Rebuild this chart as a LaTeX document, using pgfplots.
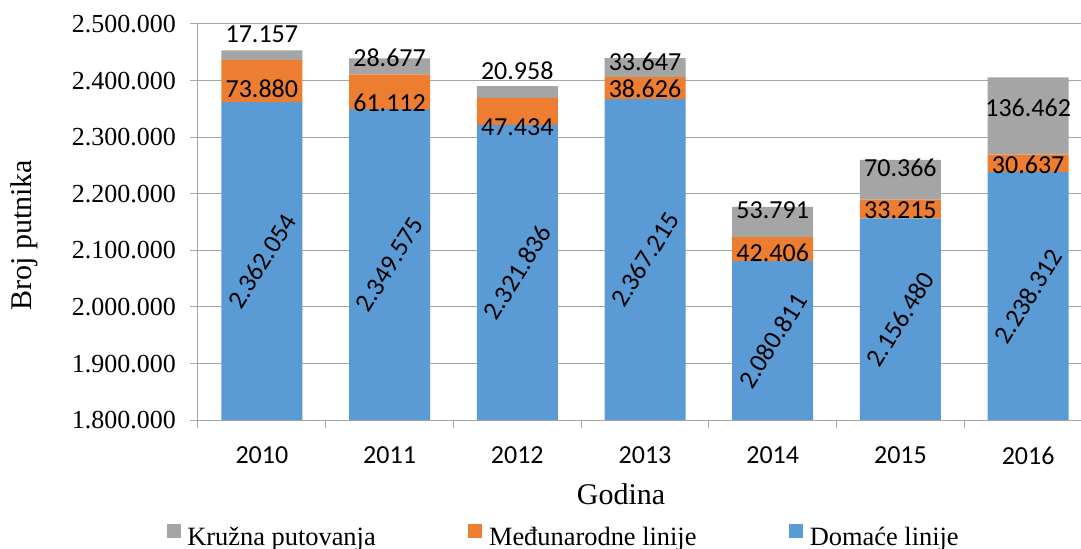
\documentclass[border=0pt]{standalone}
\usepackage{pgfplots}
\pgfplotsset{compat=1.18}
\usepackage{pgfplotstable}
\usepackage{fontspec}
\setmainfont{Liberation Serif}
\newfontfamily\calfont{Carlito}
\definecolor{dom}{HTML}{5B9BD5}
\definecolor{med}{HTML}{ED7D31}
\definecolor{kru}{HTML}{A5A5A5}
\definecolor{grd}{HTML}{A6A6A6}

% godina, domace linije, medunarodne linije, kruzna putovanja
\pgfplotstableread{
x dom med kru
0 2362054 73880 17157
1 2349575 61112 28677
2 2321836 47434 20958
3 2367215 38626 33647
4 2080811 42406 53791
5 2156480 33215 70366
6 2238312 30637 136462
}\data

\newcommand\lbl{\calfont\fontsize{19.5}{21}\selectfont}

\begin{document}
\begin{tikzpicture}
\path[use as bounding box] (0,0) rectangle (810.75pt,411.75pt);
\clip (0,0) rectangle (810.75pt,411.75pt);
\begin{axis}[
  at={(148.5pt,96.6pt)}, anchor=south west,
  scale only axis, width=670.5pt, height=297.2pt,
  xmin=-0.5, xmax=6.5, ymin=1800000, ymax=2500000,
  ybar stacked, bar width=60.75pt,
  axis lines*=left, axis line style={grd, line width=0.75pt},
  ymajorgrids, grid style={grd, line width=0.75pt},
  tick align=outside, major tick length=6pt,
  tick style={grd, line width=0.75pt},
  ytick={1800000,1900000,...,2500000},
  scaled y ticks=false,
  yticklabel style={font=\fontsize{19.5}{21}\selectfont, xshift=-7pt,
    /pgf/number format/.cd, fixed, 1000 sep={.}, assume math mode=true},
  xtick={-0.5,0.5,...,6.5}, xticklabels={},
  extra x ticks={0,1,2,3,4,5,6},
  extra x tick labels={2010,2011,2012,2013,2014,2015,2016},
  extra x tick style={major tick length=0pt,
    xticklabel style={font=\lbl, yshift=-16.5pt}},
  xlabel={Godina}, ylabel={Broj putnika},
  label style={font=\fontsize{22.5}{24}\selectfont},
  xlabel style={at={(axis description cs:0.4732,-0.1862)}, anchor=center},
  ylabel style={at={(axis description cs:-0.194,0.467)}, anchor=center},
  reverse legend, legend columns=3,
  legend image code/.code={\fill[#1] (0pt,-0.5pt) rectangle (10.5pt,10pt);},
  legend style={at={(axis description cs:0.4094,-0.2948)}, anchor=center,
    draw=none, font=\fontsize{19.8}{22}\selectfont,
    /tikz/every odd column/.append style={column sep=3pt},
    /tikz/every even column/.append style={column sep=67.5pt}},
]
\addplot[fill=dom, draw=none] table[x=x, y=dom] {\data};
\addlegendentry{Domaće linije}
\addplot[fill=med, draw=none] table[x=x, y=med] {\data};
\addlegendentry{Međunarodne linije}
\addplot[fill=kru, draw=none] table[x=x, y=kru] {\data};
\addlegendentry{Kružna putovanja}

% mjesta oznaka vrijednosti
\coordinate (k0) at (axis cs:0,2482300);
\coordinate (k1) at (axis cs:1,2439900);
\coordinate (k2) at (axis cs:2,2417800);
\coordinate (k3) at (axis cs:3,2432900);
\coordinate (k4) at (axis cs:4,2171400);
\coordinate (k5) at (axis cs:5,2245600);
\coordinate (k6) at (axis cs:6,2351600);
\coordinate (m0) at (axis cs:0,2386000);
\coordinate (m1) at (axis cs:1,2360400);
\coordinate (m2) at (axis cs:2,2318000);
\coordinate (m3) at (axis cs:3,2385200);
\coordinate (m4) at (axis cs:4,2095400);
\coordinate (m5) at (axis cs:5,2171400);
\coordinate (m6) at (axis cs:6,2250900);
\coordinate (d0) at (axis cs:0,2081027);
\coordinate (d1) at (axis cs:1,2074788);
\coordinate (d2) at (axis cs:2,2060918);
\coordinate (d3) at (axis cs:3,2083608);
\coordinate (d4) at (axis cs:4,1940406);
\coordinate (d5) at (axis cs:5,1978240);
\coordinate (d6) at (axis cs:6,2019156);
\end{axis}

\foreach \c/\t in {k0/17.157, k1/28.677, k2/20.958, k3/33.647, k4/53.791,
    k5/70.366, k6/136.462, m0/73.880, m1/61.112, m2/47.434, m3/38.626,
    m4/42.406, m5/33.215, m6/30.637}
  \node[font=\lbl] at (\c) {\t};
\foreach \c/\t in {d0/2.362.054, d1/2.349.575, d2/2.321.836, d3/2.367.215,
    d4/2.080.811, d5/2.156.480, d6/2.238.312}
  \node[font=\lbl, rotate=58] at (\c) {\t};
\end{tikzpicture}
\end{document}
